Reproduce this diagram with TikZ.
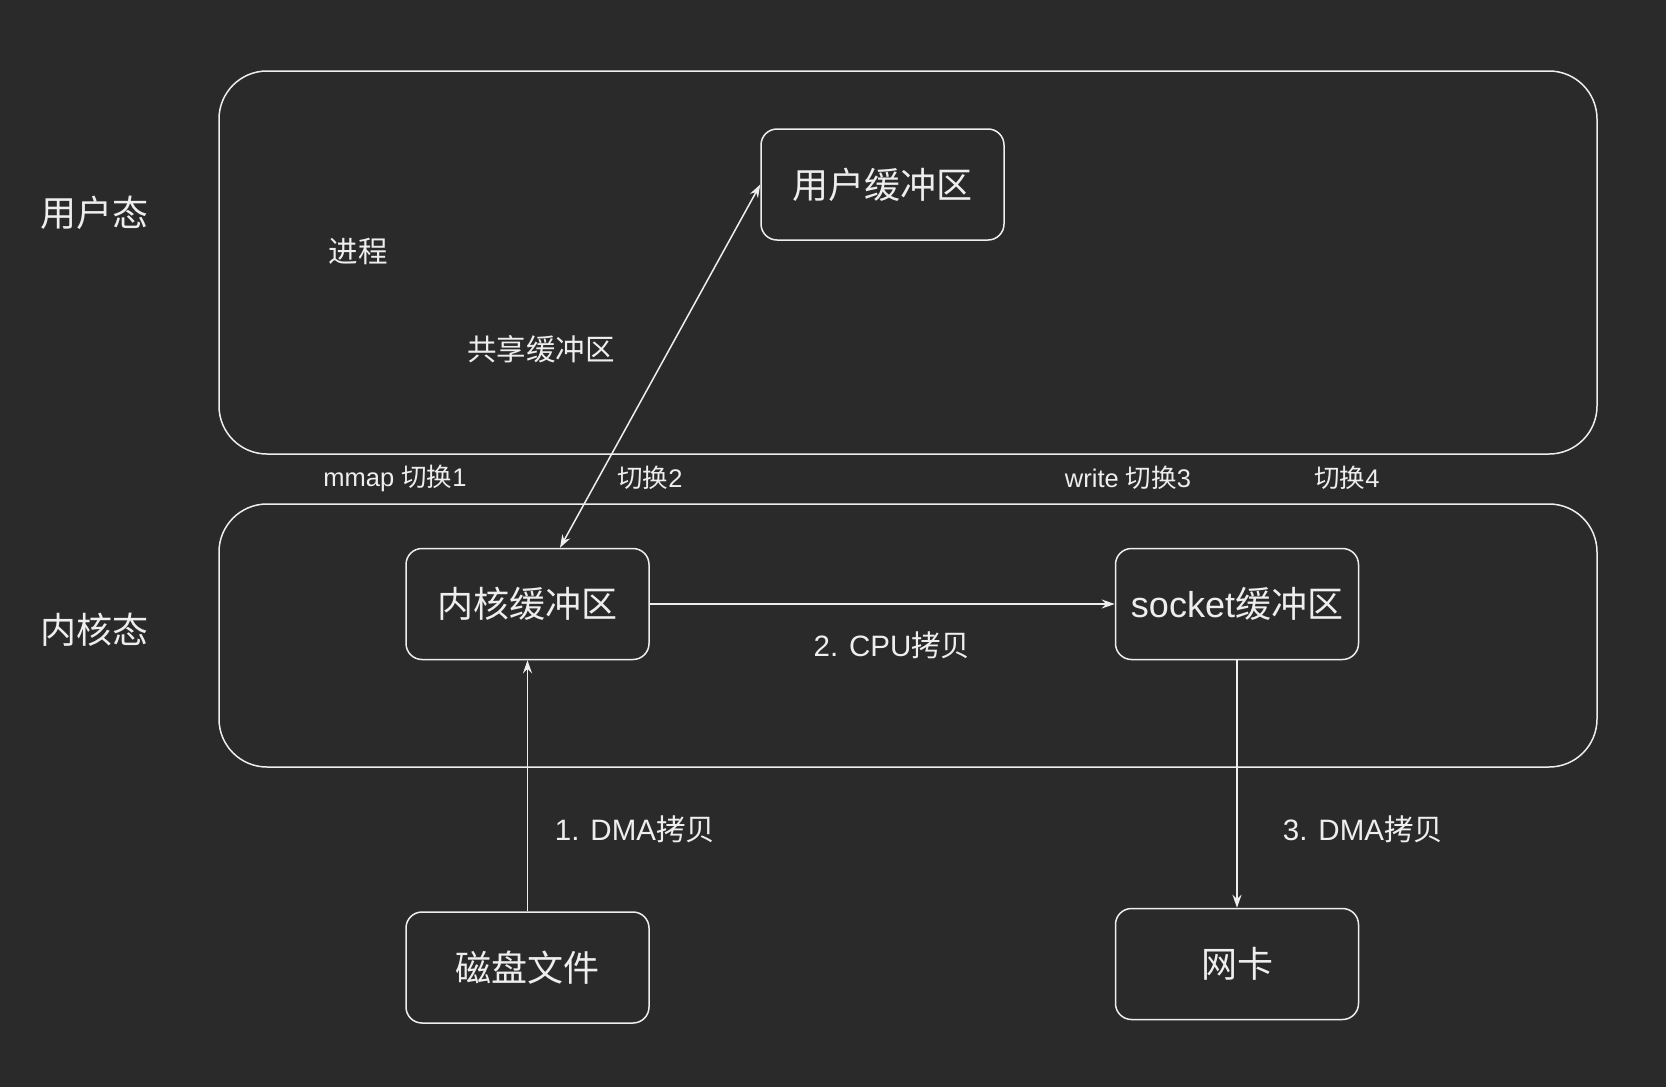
\documentclass[tikz,border=0pt]{standalone}
\usepackage{fontspec}
\setmainfont{Liberation Sans}
\newfontfamily\cjkfont{Noto Sans CJK SC}
\newcommand{\zh}[1]{{\cjkfont #1}}
\usepackage{xcolor}
\usetikzlibrary{arrows.meta}

\definecolor{bgdark}{HTML}{2A2A2A}
\definecolor{fgline}{HTML}{EEEEEE}

\tikzset{
  buffer/.style={draw=fgline, line width=1.5pt, rounded corners=16pt,
    minimum width=243pt, minimum height=111pt, text=fgline,
    font=\fontsize{36}{40}\selectfont},
  region/.style={draw=fgline, line width=1.5pt, rounded corners=48pt},
  biglabel/.style={text=fgline, font=\fontsize{36}{40}\selectfont},
  midlabel/.style={text=fgline, font=\fontsize{29.5}{32}\selectfont},
  smalllabel/.style={text=fgline, font=\fontsize{25.5}{28}\selectfont},
  copyarrow/.style={draw=fgline, line width=1.5pt, -{Stealth[length=13pt, width=9pt]}}
}

\begin{document}
\begin{tikzpicture}[x=1pt, y=-1pt]
    % background
    \fill[bgdark] (0, 0) rectangle (1666, 1087);
    \useasboundingbox (0, 0) rectangle (1666, 1087);

    % user space and kernel space
    \draw[region] (219, 71) rectangle (1597, 454);
    \draw[region] (219, 504) rectangle (1597, 767);

    % buffers
    \node[buffer] (ubuf) at (882.5, 184.5) {\zh{用户缓冲区}};
    \node[buffer] (kbuf) at (527.5, 604) {\zh{内核缓冲区}};
    \node[buffer] (sbuf) at (1237, 604) {socket\zh{缓冲区}};
    \node[buffer] (disk) at (527.5, 967.5) {\zh{磁盘文件}};
    \node[buffer] (nic) at (1237, 964) {\zh{网卡}};

    % labels for the two spaces
    \node[biglabel] (ulabel) at (94, 213) {\zh{用户态}};
    \node[biglabel] (klabel) at (94, 630) {\zh{内核态}};
    \node[midlabel] (proc) at (358, 251) {\zh{进程}};
    \node[midlabel] (shared) at (541, 349) {\zh{共享缓冲区}};

    % switches
    \node[smalllabel] (sw1) at (395, 478) {mmap \zh{切换}1};
    \node[smalllabel] (sw2) at (650, 478) {\zh{切换}2};
    \node[smalllabel] (sw3) at (1128, 478) {write \zh{切换}3};
    \node[smalllabel] (sw4) at (1347, 478) {\zh{切换}4};

    % copies
    \draw[copyarrow] (disk.north) -- (kbuf.south);
    \draw[copyarrow] (kbuf.east) -- (sbuf.west);
    \draw[copyarrow] (sbuf.south) -- (nic.north);
    \draw[copyarrow, {Stealth[length=13pt, width=9pt]}-{Stealth[length=13pt, width=9pt]}]
      ([xshift=32.5pt]kbuf.north) -- (ubuf.west);

    \node[midlabel] (cpu) at (892, 645) {2. CPU\zh{拷贝}};
    \node[midlabel] (dma1) at (635, 829) {1. DMA\zh{拷贝}};
    \node[midlabel] (dma3) at (1363, 829) {3. DMA\zh{拷贝}};
  \end{tikzpicture}
\end{document}
